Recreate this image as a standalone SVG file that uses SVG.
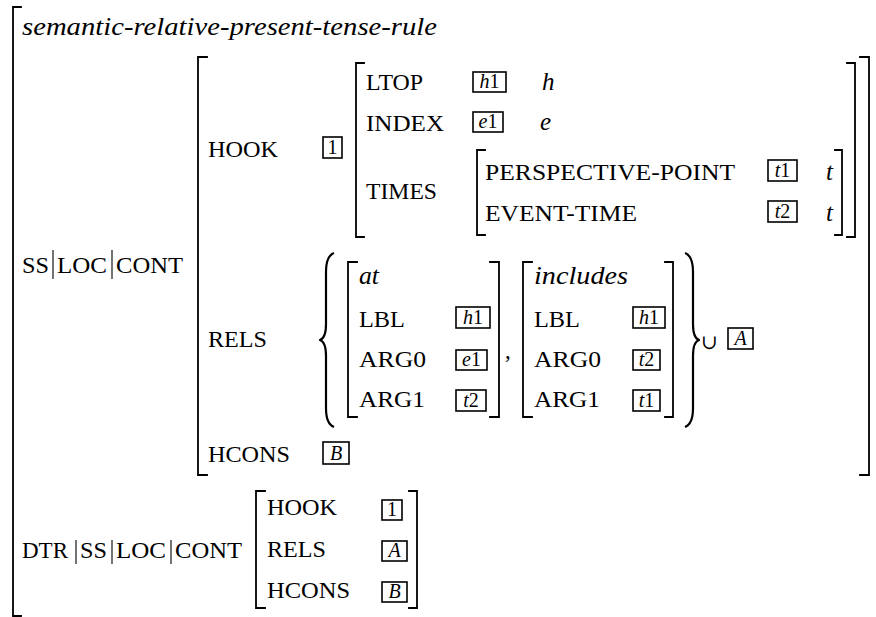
<svg xmlns="http://www.w3.org/2000/svg" width="876" height="617" viewBox="0 0 876 617">
<style>
.br{fill:none;stroke:#000;stroke-width:1.8;stroke-linecap:square}
.bx{fill:none;stroke:#000;stroke-width:1.6}
.bar{stroke:#000;stroke-width:1.1}
.lb{font-size:23px}
.it{font-style:italic;font-size:25px}
.bt{font-size:20px;text-anchor:middle}
.v{font-style:italic}
.brace{fill:none;stroke:#000;stroke-width:2.2;stroke-linejoin:round}
</style>
<rect width="876" height="617" fill="#fff"/>
<g font-family="Liberation Serif, DejaVu Serif, serif" fill="#000">

<g id="outer">
  <path class="br" d="M21,7 H13 V616 H21"/>
  <text class="it" x="22" y="35" textLength="415" lengthAdjust="spacingAndGlyphs">semantic-relative-present-tense-rule</text>
</g>

<g id="ss-loc-cont-path">
  <text class="lb" x="22" y="273" textLength="27" lengthAdjust="spacingAndGlyphs">SS</text>
  <line class="bar" x1="53" y1="250" x2="53" y2="279"/>
  <text class="lb" x="57" y="273" textLength="50" lengthAdjust="spacingAndGlyphs">LOC</text>
  <line class="bar" x1="112" y1="250" x2="112" y2="279"/>
  <text class="lb" x="116" y="273" textLength="67" lengthAdjust="spacingAndGlyphs">CONT</text>
</g>

<g id="cont-matrix">
  <path class="br" d="M207,57 H198 V475 H207"/>
  <path class="br" d="M860,57 H869 V475 H860"/>
  <text class="lb" x="208" y="157" textLength="70" lengthAdjust="spacingAndGlyphs">HOOK</text>
  <rect class="bx" x="323" y="137" width="19" height="21"/>
  <text class="bt" x="332.5" y="154">1</text>
  <text class="lb" x="208" y="347" textLength="59" lengthAdjust="spacingAndGlyphs">RELS</text>
  <text class="lb" x="208" y="462" textLength="82" lengthAdjust="spacingAndGlyphs">HCONS</text>
  <rect class="bx" x="323" y="442" width="26" height="22"/>
  <text class="bt" x="336" y="460"><tspan class="v">B</tspan></text>
</g>

<g id="hook-matrix">
  <path class="br" d="M364,63 H356 V237 H364"/>
  <path class="br" d="M847,63 H855 V237 H847"/>
  <text class="lb" x="366" y="90" textLength="57" lengthAdjust="spacingAndGlyphs">LTOP</text>
  <rect class="bx" x="473" y="72" width="33" height="20"/>
  <text class="bt" x="489.5" y="88"><tspan class="v">h</tspan>1</text>
  <text class="it" x="542" y="90">h</text>
  <text class="lb" x="366" y="131" textLength="78" lengthAdjust="spacingAndGlyphs">INDEX</text>
  <rect class="bx" x="473" y="112" width="30" height="20"/>
  <text class="bt" x="488" y="128"><tspan class="v">e</tspan>1</text>
  <text class="it" x="540" y="130">e</text>
  <text class="lb" x="366" y="199" textLength="71" lengthAdjust="spacingAndGlyphs">TIMES</text>
</g>

<g id="times-matrix">
  <path class="br" d="M485,150 H477 V235 H485"/>
  <path class="br" d="M835,150 H842 V235 H835"/>
  <text class="lb" x="485" y="180" textLength="250" lengthAdjust="spacingAndGlyphs">PERSPECTIVE-POINT</text>
  <rect class="bx" x="768" y="160" width="29" height="21"/>
  <text class="bt" x="782.5" y="177"><tspan class="v">t</tspan>1</text>
  <text class="it" x="826" y="180">t</text>
  <text class="lb" x="485" y="221" textLength="152" lengthAdjust="spacingAndGlyphs">EVENT-TIME</text>
  <rect class="bx" x="768" y="201" width="29" height="21"/>
  <text class="bt" x="782.5" y="218"><tspan class="v">t</tspan>2</text>
  <text class="it" x="826" y="221">t</text>
</g>

<g id="rels-set">
  <path class="brace" d="M334,253 Q326,256 326,272 L326,324 Q326,338 320,340 Q326,342 326,356 L326,408 Q326,424 334,427"/>
  <path class="brace" d="M685,253 Q693,256 693,272 L693,324 Q693,338 699,340 Q693,342 693,356 L693,408 Q693,424 685,427"/>
  <text class="lb" x="505" y="358">,</text>
  <text font-family="DejaVu Serif, serif" font-size="20" x="701" y="349">∪</text>
  <rect class="bx" x="728" y="328" width="25" height="21"/>
  <text class="bt" x="740.5" y="345"><tspan class="v">A</tspan></text>
</g>

<g id="at-matrix">
  <path class="br" d="M357,262 H348 V417 H357"/>
  <path class="br" d="M490,262 H499 V417 H490"/>
  <text class="it" x="359" y="284" textLength="20" lengthAdjust="spacingAndGlyphs">at</text>
  <text class="lb" x="359" y="327" textLength="46" lengthAdjust="spacingAndGlyphs">LBL</text>
  <rect class="bx" x="456" y="307" width="34" height="21"/>
  <text class="bt" x="473" y="324"><tspan class="v">h</tspan>1</text>
  <text class="lb" x="359" y="367" textLength="67" lengthAdjust="spacingAndGlyphs">ARG0</text>
  <rect class="bx" x="456" y="350" width="31" height="20"/>
  <text class="bt" x="471.5" y="366"><tspan class="v">e</tspan>1</text>
  <text class="lb" x="359" y="407" textLength="66" lengthAdjust="spacingAndGlyphs">ARG1</text>
  <rect class="bx" x="456" y="390" width="30" height="21"/>
  <text class="bt" x="471" y="407"><tspan class="v">t</tspan>2</text>
</g>

<g id="includes-matrix">
  <path class="br" d="M532,262 H523 V417 H532"/>
  <path class="br" d="M665,262 H673 V417 H665"/>
  <text class="it" x="534" y="284" textLength="94" lengthAdjust="spacingAndGlyphs">includes</text>
  <text class="lb" x="534" y="327" textLength="46" lengthAdjust="spacingAndGlyphs">LBL</text>
  <rect class="bx" x="633" y="307" width="32" height="21"/>
  <text class="bt" x="649" y="324"><tspan class="v">h</tspan>1</text>
  <text class="lb" x="534" y="367" textLength="67" lengthAdjust="spacingAndGlyphs">ARG0</text>
  <rect class="bx" x="633" y="350" width="27" height="20"/>
  <text class="bt" x="646.5" y="366"><tspan class="v">t</tspan>2</text>
  <text class="lb" x="534" y="407" textLength="66" lengthAdjust="spacingAndGlyphs">ARG1</text>
  <rect class="bx" x="633" y="390" width="27" height="21"/>
  <text class="bt" x="646.5" y="407"><tspan class="v">t</tspan>1</text>
</g>

<g id="dtr-path">
  <text class="lb" x="22" y="558" textLength="46" lengthAdjust="spacingAndGlyphs">DTR</text>
  <line class="bar" x1="76" y1="540" x2="76" y2="564"/>
  <text class="lb" x="80" y="558" textLength="27" lengthAdjust="spacingAndGlyphs">SS</text>
  <line class="bar" x1="112" y1="540" x2="112" y2="564"/>
  <text class="lb" x="116" y="558" textLength="50" lengthAdjust="spacingAndGlyphs">LOC</text>
  <line class="bar" x1="171" y1="540" x2="171" y2="564"/>
  <text class="lb" x="175" y="558" textLength="67" lengthAdjust="spacingAndGlyphs">CONT</text>
</g>

<g id="dtr-matrix">
  <path class="br" d="M265,491 H256 V608 H265"/>
  <path class="br" d="M409,491 H417 V608 H409"/>
  <text class="lb" x="267" y="515" textLength="70" lengthAdjust="spacingAndGlyphs">HOOK</text>
  <rect class="bx" x="382" y="500" width="20" height="20"/>
  <text class="bt" x="392" y="516">1</text>
  <text class="lb" x="267" y="557" textLength="59" lengthAdjust="spacingAndGlyphs">RELS</text>
  <rect class="bx" x="382" y="541" width="25" height="20"/>
  <text class="bt" x="394.5" y="557"><tspan class="v">A</tspan></text>
  <text class="lb" x="267" y="598" textLength="83" lengthAdjust="spacingAndGlyphs">HCONS</text>
  <rect class="bx" x="382" y="582" width="25" height="20"/>
  <text class="bt" x="394.5" y="598"><tspan class="v">B</tspan></text>
</g>
</g>
</svg>
